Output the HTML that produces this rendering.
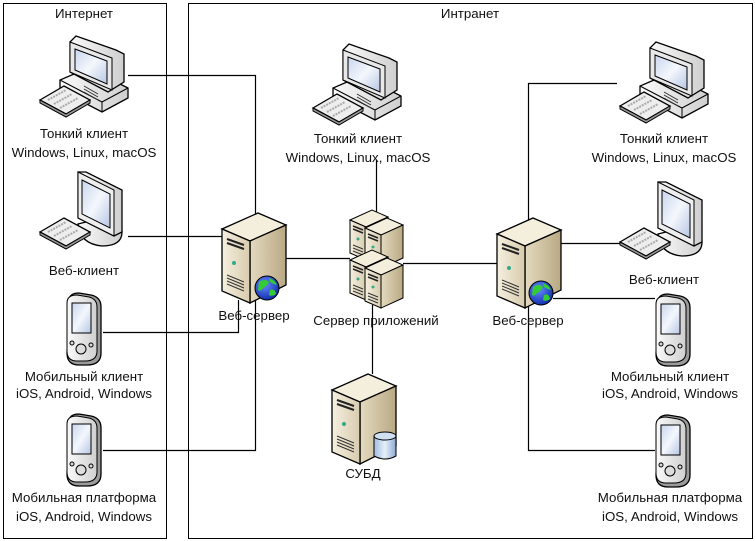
<!DOCTYPE html>
<html><head><meta charset="utf-8"><style>
body{margin:0;background:#fff}
svg{display:block}
text{font-family:"Liberation Sans","DejaVu Sans",sans-serif;font-size:13.3px;fill:#111;text-anchor:middle}
</style></head><body>
<svg width="755" height="541" viewBox="0 0 755 541" xmlns="http://www.w3.org/2000/svg">
<defs>
<linearGradient id="scr" x1="0" y1="0" x2="1" y2="1"><stop offset="0" stop-color="#c9d6ee"/><stop offset=".5" stop-color="#f4f7fc"/><stop offset="1" stop-color="#b7c6e4"/></linearGradient>
<linearGradient id="beige" x1="0" y1="0" x2="1" y2="0"><stop offset="0" stop-color="#f5efdf"/><stop offset="1" stop-color="#d8ccae"/></linearGradient>
<linearGradient id="beige2" x1="0" y1="0" x2="1" y2="0"><stop offset="0" stop-color="#e4dabf"/><stop offset="1" stop-color="#b9a984"/></linearGradient>
<linearGradient id="gry" x1="0" y1="0" x2="1" y2="0"><stop offset="0" stop-color="#fafafa"/><stop offset="1" stop-color="#cfcfcf"/></linearGradient>
<radialGradient id="glb" cx=".4" cy=".35" r=".7"><stop offset="0" stop-color="#6a8cff"/><stop offset="1" stop-color="#0a2aa8"/></radialGradient>
<linearGradient id="cyl" x1="0" y1="0" x2="1" y2="0"><stop offset="0" stop-color="#9fbde0"/><stop offset=".5" stop-color="#e6f0fa"/><stop offset="1" stop-color="#8aa9d0"/></linearGradient>
<g id="kb"><path d="M0 22 L24 8 L50 22 L26 36 Z" fill="#eee" stroke="#000" stroke-width="1.3"/><path d="M0 22 L0 25 L26 39 L50 25 L50 22 L26 36 Z" fill="#999" stroke="#000"/><path d="M8 22 L26 12 M14 26 L32 16 M20 30 L38 20" stroke="#aaa" stroke-width="2" stroke-dasharray="2 1"/></g>
<g id="pc">
<path d="M20 48 L20 58 L62 80 L88 66 L88 56 L48 36 Z" fill="url(#gry)" stroke="#000" stroke-width="1.3"/>
<path d="M20 48 L62 70 L88 56" fill="none" stroke="#000"/>
<path d="M62 70 L62 80" stroke="#000"/>
<path d="M30 10 L36 4 L76 18 L84 22 L84 50 L68 60 L30 40 Z" fill="url(#gry)" stroke="#000" stroke-width="1.3"/>
<path d="M30 10 L72 26 L72 58 L30 40 Z" fill="#e8e8e8" stroke="#000"/>
<path d="M35 17 L67 29 L67 52 L35 38 Z" fill="url(#scr)" stroke="#000"/>
<path d="M44 54 L58 62 M44 57 L58 65 M44 60 L58 68" stroke="#333"/>
<use href="#kb" x="0" y="46"/>
</g>
<g id="wc">
<path d="M38 52 Q40 72 62 74 Q82 74 82 60 Q82 48 70 44 Z" fill="url(#gry)" stroke="#000" stroke-width="1.3"/>
<path d="M38 0 L46 0 L82 18 L82 60 L74 64 L38 46 Z" fill="url(#gry)" stroke="#000" stroke-width="1.3"/>
<path d="M38 0 L74 18 L74 64 L38 46 Z" fill="#eee" stroke="#000"/>
<path d="M42 8 L70 22 L70 56 L42 42 Z" fill="url(#scr)" stroke="#000"/>
<use href="#kb" x="0" y="38"/>
</g>
<g id="ph">
<path d="M4 8 Q4 0 14 0 L26 2 Q36 4 36 14 L36 60 Q36 72 22 72 L14 72 Q2 72 2 60 Z" fill="#9a9a9a" stroke="#000" stroke-width="1.3"/>
<path d="M2 10 Q2 2 12 2 L24 4 Q32 6 32 14 L32 58 Q32 68 20 68 L12 68 Q2 68 2 58 Z" fill="url(#gry)" stroke="#000"/>
<rect x="7" y="10" width="19" height="30" fill="url(#scr)" stroke="#000"/>
<circle cx="16" cy="56" r="5" fill="#ddd" stroke="#000"/><circle cx="7" cy="50" r="2" fill="#ddd" stroke="#000"/><circle cx="26" cy="52" r="2" fill="#ddd" stroke="#000"/>
</g>
<g id="sv">
<path d="M0 16 L36 0 L64 12 L28 28 Z" fill="#f4eedd" stroke="#000" stroke-width="1.3"/>
<path d="M28 28 L64 12 L64 72 L28 90 Z" fill="url(#beige2)" stroke="#000" stroke-width="1.3"/>
<path d="M0 16 L28 28 L28 90 L0 78 Z" fill="url(#beige)" stroke="#000" stroke-width="1.3"/>
<path d="M5 26 L22 32 M5 30 L22 36" stroke="#222" stroke-width="2"/>
<circle cx="12" cy="50" r="2" fill="#3a8"/>
<path d="M5 62 L22 69 M5 65 L22 72 M5 68 L22 75 M5 71 L22 78" stroke="#333"/>
</g>
<g id="svs">
<path d="M0 10 L22 0 L38 7 L16 17 Z" fill="#f4eedd" stroke="#000"/>
<path d="M16 17 L38 7 L38 40 L16 50 Z" fill="url(#beige2)" stroke="#000"/>
<path d="M0 10 L16 17 L16 50 L0 43 Z" fill="url(#beige)" stroke="#000"/>
<path d="M3 16 L13 20 M3 19 L13 23" stroke="#222" stroke-width="1.5"/><circle cx="8" cy="29" r="1.5" fill="#3a8"/>
<path d="M3 35 L13 39 M3 38 L13 42 M3 41 L13 45" stroke="#333"/>
</g>
<g id="globe"><circle r="12" fill="url(#glb)" stroke="#000"/><path d="M-8 -6 Q-2 -10 2 -6 Q0 -2 -4 0 Q-6 4 -9 2 Z M3 2 Q8 0 9 6 Q5 9 2 7 Z M2 -10 Q8 -8 10 -3 Q6 -4 3 -6 Z" fill="#3c3"/></g>
</defs>

<rect x="3.5" y="3.5" width="163" height="535" fill="none" stroke="#000"/>
<rect x="188.5" y="3.5" width="564" height="535" fill="none" stroke="#000"/>
<text x="84" y="18">Интернет</text>
<text x="470" y="18">Интранет</text>

<g fill="none" stroke="#000" stroke-width="1.2">
<path d="M128 75.5 H255.5 V215"/>
<path d="M128 236.5 H222"/>
<path d="M103 332.5 H238.5 V300"/>
<path d="M103 450.5 H255.5 V300"/>
<path d="M286 258.5 H350"/>
<path d="M376.5 160 V212"/>
<path d="M403 263.5 H497"/>
<path d="M372.5 305 V374"/>
<path d="M617 83.5 H528.5 V222"/>
<path d="M560 243.5 H623"/>
<path d="M553 298.5 H655"/>
<path d="M528.5 305 V450.5 H655"/>
</g>

<use href="#pc" x="40" y="32"/>
<text x="84" y="138">Тонкий клиент</text>
<text x="84" y="157">Windows, Linux, macOS</text>
<use href="#wc" x="40" y="172"/>
<text x="84" y="275">Веб-клиент</text>
<use href="#ph" x="65" y="293"/>
<text x="84" y="381">Мобильный клиент</text>
<text x="84" y="398">iOS, Android, Windows</text>
<use href="#ph" x="65" y="414"/>
<text x="84" y="502">Мобильная платформа</text>
<text x="84" y="521">iOS, Android, Windows</text>

<use href="#sv" x="222" y="213"/>
<use href="#globe" x="267" y="288"/>
<text x="254" y="320">Веб-сервер</text>

<use href="#pc" x="313" y="40"/>
<text x="358" y="143">Тонкий клиент</text>
<text x="358" y="162">Windows, Linux, macOS</text>

<use href="#svs" x="350" y="210"/>
<use href="#svs" x="365" y="218"/>
<use href="#svs" x="350" y="250"/>
<use href="#svs" x="365" y="258"/>
<text x="376" y="325">Сервер приложений</text>

<use href="#sv" x="332" y="374"/>
<g transform="translate(374,432)"><path d="M0 4 V24 Q11 30 22 24 V4" fill="url(#cyl)" stroke="#000"/><ellipse cx="11" cy="4" rx="11" ry="4" fill="#cfe0f2" stroke="#000"/></g>
<text x="363" y="478">СУБД</text>

<use href="#sv" x="497" y="218"/>
<use href="#globe" x="541" y="293"/>
<text x="528" y="325">Веб-сервер</text>

<use href="#pc" x="620" y="38"/>
<text x="664" y="143">Тонкий клиент</text>
<text x="664" y="162">Windows, Linux, macOS</text>
<use href="#wc" x="620" y="182"/>
<text x="664" y="284">Веб-клиент</text>
<use href="#ph" x="654" y="294"/>
<text x="670" y="381">Мобильный клиент</text>
<text x="670" y="398">iOS, Android, Windows</text>
<use href="#ph" x="654" y="415"/>
<text x="670" y="502">Мобильная платформа</text>
<text x="670" y="521">iOS, Android, Windows</text>
</svg>
</body></html>
